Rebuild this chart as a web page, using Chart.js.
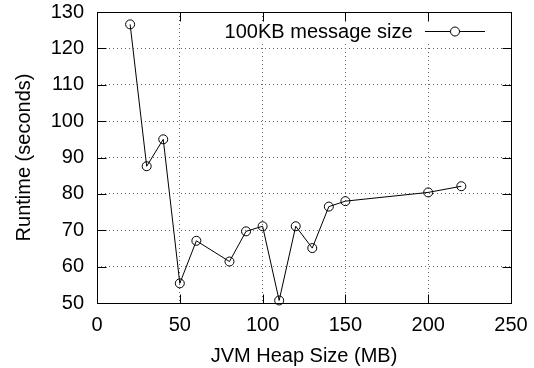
<!DOCTYPE html>
<html lang="en">
<head>
  <meta charset="UTF-8" />
  <title>JVM Heap Size vs Runtime</title>
  <script src="https://cdn.jsdelivr.net/npm/chart.js@4"></script>
  <style>
    html, body { margin: 0; padding: 0; background: #fff; }
    #chart { display: block; }
  </style>
</head>
<body>
  <canvas id="chart" width="534" height="368"></canvas>
  <script>
    // data
    const heapSizes = [20, 30, 40, 50, 60, 80, 90, 100, 110, 120, 130, 140, 150, 200, 220];
    const runtimes = [126.6, 87.6, 95, 55.4, 67.1, 61.4, 69.7, 71.1, 50.7, 71.1, 65.1, 76.5, 78, 80.4, 82.1];
    const seriesLabel = "100KB message size";
    const xTitle = "JVM Heap Size (MB)";
    const yTitle = "Runtime (seconds)";

    const FONT = "'Liberation Sans', Arial, sans-serif";
    const TICK_LEN = 9;

    // gnuplot-ish frame, mirrored inward ticks and a key inside the plot
    const gnuplotFrame = {
      id: "gnuplotFrame",
      beforeDatasetsDraw(chart) {
        const ctx = chart.ctx;
        ctx.save();
        ctx.fillStyle = "#fff";
        ctx.fillRect(205, 21, 290, 23); // key background hides the grid
        ctx.restore();
      },
      afterDatasetsDraw(chart) {
        const { ctx, chartArea: a, scales } = chart;
        const L = Math.round(a.left) + 0.5, R = Math.round(a.right) + 0.5;
        const T = Math.round(a.top) + 0.5, B = Math.round(a.bottom) + 0.5;
        ctx.save();
        ctx.strokeStyle = "#000";
        ctx.lineWidth = 1;
        ctx.beginPath();
        scales.x.ticks.forEach(t => {
          const px = Math.round(scales.x.getPixelForValue(t.value)) + 0.5;
          ctx.moveTo(px, B); ctx.lineTo(px, B - TICK_LEN);
          ctx.moveTo(px, T); ctx.lineTo(px, T + TICK_LEN);
        });
        scales.y.ticks.forEach(t => {
          const py = Math.round(scales.y.getPixelForValue(t.value)) + 0.5;
          ctx.moveTo(L, py); ctx.lineTo(L + TICK_LEN, py);
          ctx.moveTo(R, py); ctx.lineTo(R - TICK_LEN, py);
        });
        ctx.stroke();
        ctx.strokeRect(L, T, R - L, B - T);

        // key
        const ky = 31.5;
        ctx.fillStyle = "#000";
        ctx.font = "20px " + FONT;
        ctx.textAlign = "right";
        ctx.textBaseline = "middle";
        ctx.fillText(chart.data.datasets[0].label, 412.5, ky + 1);
        ctx.beginPath();
        ctx.moveTo(425, ky); ctx.lineTo(485, ky);
        ctx.stroke();
        ctx.beginPath();
        ctx.arc(455, ky, 4.5, 0, Math.PI * 2);
        ctx.fillStyle = "#fff";
        ctx.fill();
        ctx.stroke();
        ctx.restore();
      }
    };

    new Chart(document.getElementById("chart"), {
      type: "scatter",
      data: {
        datasets: [{
          label: seriesLabel,
          data: heapSizes.map((x, i) => ({ x: x, y: runtimes[i] })),
          showLine: true,
          borderColor: "#000",
          borderWidth: 1,
          backgroundColor: "rgba(0,0,0,0)",
          pointRadius: 4.5,
          pointHoverRadius: 4.5,
          pointBorderWidth: 1,
          pointBorderColor: "#000",
          pointBackgroundColor: "rgba(0,0,0,0)",
          clip: false
        }]
      },
      options: {
        responsive: false,
        animation: false,
        events: [],
        layout: { padding: { top: 12, right: 23, bottom: 0, left: 0 } },
        plugins: {
          legend: { display: false },
          tooltip: { enabled: false }
        },
        scales: {
          x: {
            type: "linear",
            min: 0,
            max: 250,
            afterFit: s => { s.height = 65; s.paddingLeft = 0; s.paddingRight = 0; },
            ticks: { stepSize: 50, padding: 10, color: "#000", font: { family: FONT, size: 20 } },
            grid: { color: "#666", lineWidth: 1, drawTicks: false },
            border: { display: false, dash: [1, 3] },
            title: { display: true, text: xTitle, color: "#000", padding: { top: 0, bottom: 0 }, font: { family: FONT, size: 20 } }
          },
          y: {
            min: 50,
            max: 130,
            afterFit: s => { s.width = 97; s.paddingTop = 0; s.paddingBottom = 0; },
            ticks: { stepSize: 10, padding: 13, color: "#000", font: { family: FONT, size: 20 } },
            grid: { color: "#666", lineWidth: 1, drawTicks: false },
            border: { display: false, dash: [1, 3] },
            title: { display: true, text: yTitle, color: "#000", padding: { top: 12, bottom: 0 }, font: { family: FONT, size: 20 } }
          }
        }
      },
      plugins: [gnuplotFrame]
    });
  </script>
</body>
</html>
